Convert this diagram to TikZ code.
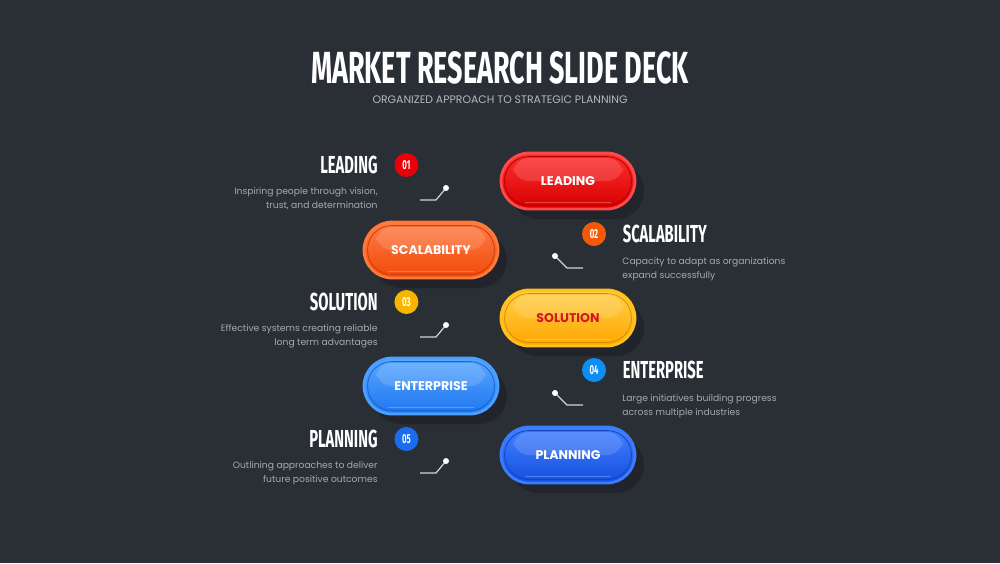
\documentclass[tikz,border=0pt]{standalone}
\usepackage{fontspec}
\setmainfont{Poppins}
\newfontfamily\headfont[FakeStretch=0.6]{Fira Sans}
\usetikzlibrary{positioning,shapes.misc,shadows}

\definecolor{bgdark}{HTML}{2A2E35}
\definecolor{subgray}{HTML}{B5B9BE}
\definecolor{descgray}{HTML}{A6AAB0}
\definecolor{linegray}{HTML}{D0D3D8}
% badge colours
\definecolor{badgeA}{HTML}{E8000A}
\definecolor{badgeB}{HTML}{F25A0A}
\definecolor{badgeC}{HTML}{F7B500}
\definecolor{badgeD}{HTML}{0D8EF2}
\definecolor{badgeE}{HTML}{1A6BF0}
% pill colours: rim, top, bottom
\definecolor{redRim}{HTML}{FF4A4A}
\definecolor{redTop}{HTML}{FF3030}
\definecolor{redBot}{HTML}{D50000}
\definecolor{orgRim}{HTML}{FF7A3A}
\definecolor{orgTop}{HTML}{FF7C45}
\definecolor{orgBot}{HTML}{F04A0A}
\definecolor{ylwRim}{HTML}{FFC21A}
\definecolor{ylwTop}{HTML}{FFD04A}
\definecolor{ylwBot}{HTML}{FFA600}
\definecolor{ylwText}{HTML}{D4141E}
\definecolor{ltbRim}{HTML}{4AA0FF}
\definecolor{ltbTop}{HTML}{5AA8FF}
\definecolor{ltbBot}{HTML}{1F76F0}
\definecolor{bluRim}{HTML}{3A7BFF}
\definecolor{bluTop}{HTML}{4580FF}
\definecolor{bluBot}{HTML}{1450E0}

\begin{document}
\begin{tikzpicture}[
  x=0.5pt, y=0.5pt,
  heading/.style={text=white, inner sep=0pt, font=\headfont\bfseries\fontsize{22.5}{24}\selectfont},
  subheading/.style={text=subgray, inner sep=0pt, font=\fontsize{5.45}{6}\selectfont},
  itemtitle/.style={text=white, inner sep=0pt, font=\headfont\bfseries\fontsize{12.3}{14}\selectfont},
  desc/.style={text=descgray, inner sep=0pt, font=\fontsize{4.6}{7}\selectfont},
  badge/.style={circle, fill=#1, minimum size=12pt, inner sep=0pt, text=white, font=\headfont\bfseries\fontsize{6.5}{7}\selectfont},
  pill/.style n args={4}{rounded rectangle, minimum width=67pt, minimum height=28pt, inner sep=0pt,
    draw=#1, line width=1.4pt, top color=#2, bottom color=#3, text=#4,
    font=\bfseries\fontsize{6.3}{7}\selectfont,
    drop shadow={shadow xshift=4.5pt, shadow yshift=-5pt, fill=black, opacity=0.2},
    path picture={
      \draw[#3!85!black, line width=0.4pt, rounded corners=12pt]
        ([xshift=1.8pt,yshift=-1.8pt]path picture bounding box.north west) rectangle
        ([xshift=-1.8pt,yshift=1.8pt]path picture bounding box.south east);
      \fill[white, opacity=0.14, rounded corners=8pt]
        ([xshift=6pt,yshift=-2.6pt]path picture bounding box.north west) rectangle
        ([xshift=-6pt,yshift=0pt]path picture bounding box.east);
      \draw[white, opacity=0.25, line width=0.4pt]
        ([xshift=12pt,yshift=3.2pt]path picture bounding box.south west) --
        ([xshift=-12pt,yshift=3.2pt]path picture bounding box.south east);
    }},
  link/.style={draw=linegray, line width=0.6pt},
  dot/.style={fill=white}
]
\fill[bgdark] (0,0) rectangle (1000,-563);
\useasboundingbox (0,0) rectangle (1000,-563);

\node[heading] (title) at (500,-68) {MARKET RESEARCH SLIDE DECK};
\node[subheading] (subtitle) at (500,-100) {ORGANIZED APPROACH TO STRATEGIC PLANNING};

% pills
\node[pill={redRim}{redTop}{redBot}{white}] (p1) at (568,-181) {LEADING};
\node[pill={orgRim}{orgTop}{orgBot}{white}] (p2) at (431,-250) {SCALABILITY};
\node[pill={ylwRim}{ylwTop}{ylwBot}{ylwText}] (p3) at (568,-318) {SOLUTION};
\node[pill={ltbRim}{ltbTop}{ltbBot}{white}] (p4) at (431,-386) {ENTERPRISE};
\node[pill={bluRim}{bluTop}{bluBot}{white}] (p5) at (568,-455) {PLANNING};

% left items
\node[itemtitle, anchor=east] (t1) at (378,-165) {LEADING};
\node[badge=badgeA, right=8pt of t1] (b1) {01};
\node[desc, anchor=north east, align=right] (d1) at (378,-187) {Inspiring people through vision,\\trust, and determination};

\node[itemtitle, anchor=east] (t3) at (378,-302) {SOLUTION};
\node[badge=badgeC, right=8pt of t3] (b3) {03};
\node[desc, anchor=north east, align=right] (d3) at (378,-324) {Effective systems creating reliable\\long term advantages};

\node[itemtitle, anchor=east] (t5) at (378,-439) {PLANNING};
\node[badge=badgeE, right=8pt of t5] (b5) {05};
\node[desc, anchor=north east, align=right] (d5) at (378,-461) {Outlining approaches to deliver\\future positive outcomes};

% right items
\node[badge=badgeB] (b2) at (594,-234) {02};
\node[itemtitle, right=8pt of b2] (t2) {SCALABILITY};
\node[desc, anchor=north west, align=left] (d2) at (622,-257) {Capacity to adapt as organizations\\expand successfully};

\node[badge=badgeD] (b4) at (594,-370) {04};
\node[itemtitle, right=8pt of b4] (t4) {ENTERPRISE};
\node[desc, anchor=north west, align=left] (d4) at (622,-394) {Large initiatives building progress\\across multiple industries};

% small leader marks
\coordinate (l1a) at (420,-200); \coordinate (l1b) at (436,-200); \coordinate (l1c) at (446,-188);
\coordinate (l3a) at (420,-337); \coordinate (l3b) at (436,-337); \coordinate (l3c) at (446,-325);
\coordinate (l5a) at (420,-473); \coordinate (l5b) at (436,-473); \coordinate (l5c) at (446,-461);
\coordinate (r2a) at (555,-256); \coordinate (r2b) at (567,-268); \coordinate (r2c) at (583,-268);
\coordinate (r4a) at (555,-393); \coordinate (r4b) at (567,-405); \coordinate (r4c) at (583,-405);

\draw[link] (l1a) -- (l1b) -- (l1c);
\draw[link] (l3a) -- (l3b) -- (l3c);
\draw[link] (l5a) -- (l5b) -- (l5c);
\draw[link] (r2a) -- (r2b) -- (r2c);
\draw[link] (r4a) -- (r4b) -- (r4c);
\fill[dot] (l1c) circle (1.5pt);
\fill[dot] (l3c) circle (1.5pt);
\fill[dot] (l5c) circle (1.5pt);
\fill[dot] (r2a) circle (1.5pt);
\fill[dot] (r4a) circle (1.5pt);
\end{tikzpicture}
\end{document}
